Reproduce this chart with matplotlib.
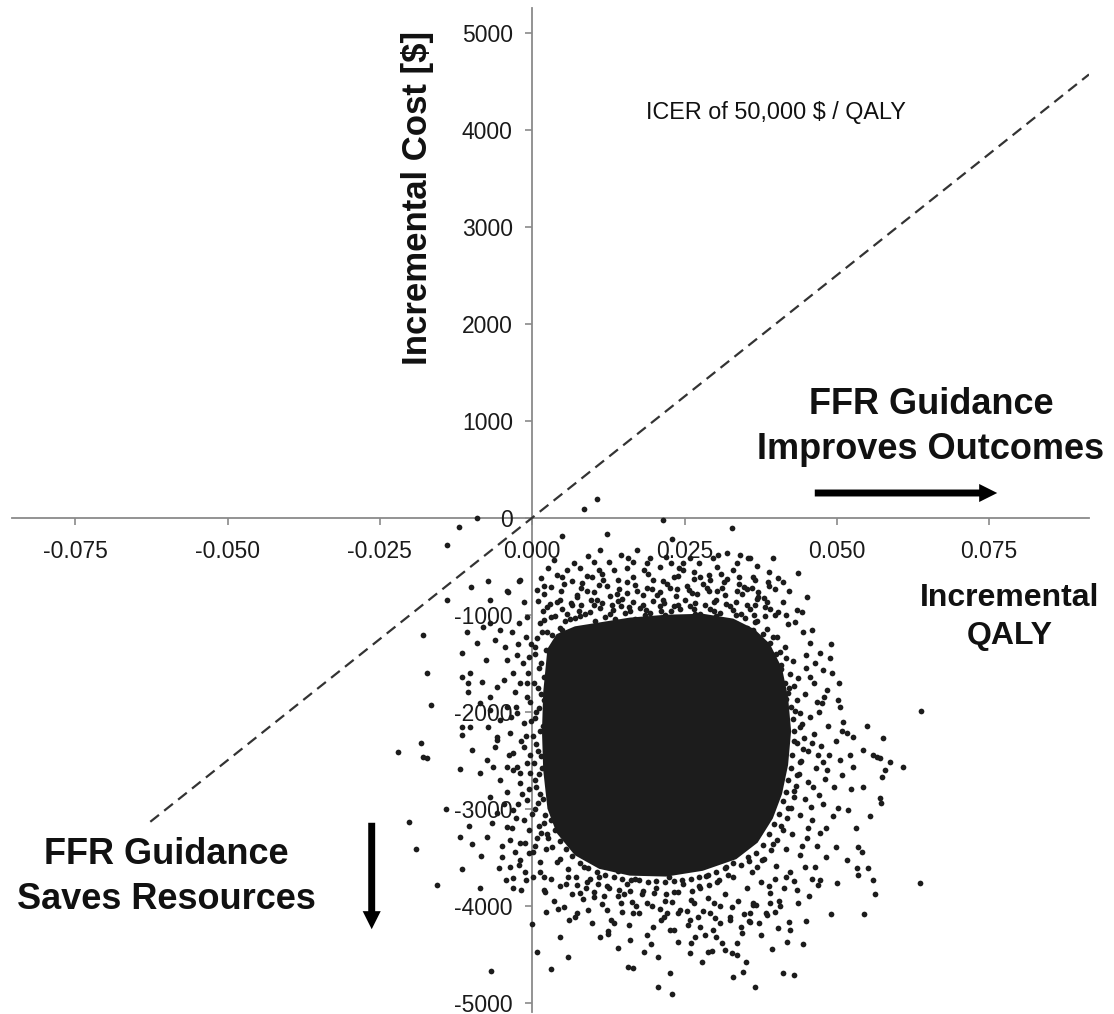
import matplotlib.pyplot as plt
from matplotlib.patches import FancyArrowPatch

plt.rcParams['font.family'] = ['Liberation Sans', 'DejaVu Sans']
plt.rcParams['axes.unicode_minus'] = False

# incremental QALY values are kept x 1000, incremental cost in $
wtp_threshold = 50000  # $ per QALY

# outline of the densest part of the simulation cloud
core_qaly = [2.5, 4, 7, 11, 16, 22, 28, 33, 36.5, 39, 41, 42, 42.5, 42, 41, 39.5, 37, 33.5,
             28, 22, 16, 11, 7, 4, 2.5, 1.8, 1.6, 1.8]
core_cost = [-1350, -1200, -1120, -1080, -1030, -1000, -990, -1040, -1150, -1300, -1550,
             -1850, -2200, -2550, -2850, -3100, -3350, -3520, -3640, -3700, -3690, -3620,
             -3480, -3250, -3000, -2600, -2200, -1800]

# simulation draws above and around the dense part
upper_draws = [
    (0.8, -746), (3.0, -711), (4.9, -608), (5.7, -539), (7.9, -522), (8.2, -677), (10.1, -454),
    (10.9, -539), (11.2, -333), (11.7, -643), (13.4, -539), (14.5, -385), (15.5, -522), (16.6, -454),
    (17.2, -333), (18.3, -539), (19.4, -419), (19.9, -643), (21.0, -505), (22.7, -471), (23.2, -608),
    (24.8, -539), (25.9, -419), (27.6, -608), (29.2, -643), (30.3, -505), (32.0, -368), (33.6, -471),
    (34.7, -711), (35.8, -419), (36.3, -608), (3.5, -436), (24.8, -467), (30.5, -385), (34.1, -385),
    (2.4, -917), (4.1, -873), (5.7, -996), (7.3, -814), (9.0, -756), (10.6, -849), (12.3, -701),
    (13.9, -790), (15.5, -667), (17.2, -756), (18.8, -721), (20.5, -800), (22.1, -687), (23.8, -736),
    (25.4, -701), (27.0, -790), (28.7, -721), (30.3, -756), (32.0, -633), (33.6, -756), (35.2, -736),
    (1.3, -1089), (3.0, -1021), (4.6, -1134), (6.2, -1045), (7.9, -1011), (9.5, -976), (11.2, -927),
    (12.8, -996), (14.5, -907), (16.1, -962), (17.7, -927), (19.4, -979), (21.0, -907), (22.7, -962),
    (24.3, -945), (25.9, -907), (27.6, -996), (29.2, -942), (30.9, -979), (32.5, -907), (34.2, -996),
    (35.8, -942), (0.8, -1237), (2.4, -1182), (4.1, -1271), (5.7, -1217), (7.3, -1165), (9.0, -1148),
    (10.6, -1114), (12.3, -1151), (13.9, -1079), (15.5, -1134), (17.2, -1065), (18.8, -1114),
    (20.5, -1099), (22.1, -1114), (23.8, -1065), (25.4, -1134), (27.0, -1079), (28.7, -1114),
    (30.3, -1065), (32.0, -1151), (33.6, -1099), (35.2, -1134), (36.9, -1065), (6.5, -900),
    (14.0, -860), (21.5, -850), (29.8, -870), (37.0, -820), (9.8, -610), (26.5, -560), (31.0, -580),
    (2.6, -520), (6.8, -470), (9.2, -390), (12.6, -460), (15.8, -420), (18.9, -470), (21.9, -400),
    (24.1, -520), (27.3, -470), (29.6, -420), (32.9, -540), (36.9, -500), (38.8, -560),
    (1.9, -700), (5.2, -680), (8.0, -720), (11.0, -690), (14.3, -730), (16.9, -690), (19.6, -740),
    (22.6, -720), (25.8, -750), (28.0, -680), (31.2, -720), (34.0, -680), (36.0, -720), (38.9, -700),
    (42.1, -760), (1.8, -960), (4.9, -940), (7.6, -960), (10.2, -900), (13.3, -950), (15.9, -920),
    (18.6, -950), (21.2, -960), (24.0, -900), (26.5, -940), (29.9, -960), (33.0, -950), (36.4, -1000),
    (39.0, -940), (41.6, -1000), (43.1, -1080),
]

right_draws = [
    (35.4, -416), (39.5, -412), (43.7, -570), (40.4, -622), (41.2, -663), (38.7, -663), (45.1, -814),
    (43.4, -951), (44.3, -969), (40.4, -969), (36.6, -900), (38.2, -918), (44.5, -1175), (45.9, -1158),
    (45.6, -1292), (47.3, -1395), (48.9, -1447), (47.8, -1570), (49.2, -1601), (45.6, -1639),
    (48.4, -1776), (50.2, -1880), (50.5, -1949), (47.5, -1914), (54.9, -2148), (51.0, -2103),
    (51.6, -2220), (52.7, -2258), (57.6, -2272), (56.6, -2464), (58.8, -2516), (60.9, -2567),
    (54.3, -2395), (50.5, -2498), (56.0, -2447), (57.1, -2478), (57.9, -2601), (57.5, -2677),
    (52.7, -2567), (54.3, -2773), (57.1, -2890), (57.2, -2945), (55.5, -3076), (51.9, -3014),
    (50.2, -2993), (53.5, -3392), (54.1, -3444), (51.7, -3529), (50.0, -3763), (53.3, -3615),
    (55.2, -3609), (56.0, -3735), (56.3, -3880), (53.5, -3684), (54.5, -4086), (49.0, -4086),
    (46.4, -3602), (47.3, -3735), (46.9, -3787), (38.5, -1150), (40.2, -1230), (41.5, -1330),
    (42.8, -1480), (40.9, -1520), (43.6, -1650), (42.2, -1760), (44.8, -1820), (43.1, -1990),
    (45.6, -2050), (44.0, -2160), (46.3, -2230), (43.5, -2320), (45.2, -2400), (47.4, -2350),
    (44.1, -2510), (46.6, -2580), (43.4, -2650), (45.3, -2720), (48.0, -2690), (42.9, -2820),
    (44.7, -2900), (47.1, -2860), (42.0, -2990), (43.9, -3060), (46.0, -3120), (40.8, -3180),
    (42.7, -3260), (45.1, -3300), (39.5, -3360), (41.6, -3420), (44.0, -3480), (37.8, -3530),
    (40.0, -3590), (42.3, -3650), (48.8, -2450), (49.5, -2780), (48.3, -3200), (47.0, -2000),
    (46.2, -1700), (44.9, -1420), (42.0, -1100), (39.8, -1000), (41.2, -870), (38.0, -830),
    (36.9, -1250), (39.6, -1430), (40.4, -1630), (41.7, -1870), (41.4, -2400), (40.9, -2650),
    (39.4, -2950), (37.2, -3250), (35.4, -3500), (63.9, -1990), (63.7, -3766),
    (45.0, -1550), (46.8, -1900), (45.9, -2320), (47.8, -2520), (45.7, -2980), (44.3, -3380),
    (47.2, -3250), (49.9, -3400), (46.0, -3720), (50.8, -2200), (49.0, -1300), (52.1, -2450),
]

lower_draws = [
    (1.2, -3650), (3.0, -3720), (2.1, -3860), (4.5, -3800), (3.6, -3950), (5.8, -3700), (6.5, -3880),
    (5.2, -4010), (7.4, -3790), (8.3, -3930), (7.0, -4120), (9.5, -3720), (10.1, -3860), (9.2, -4040),
    (11.4, -3980), (12.2, -3800), (13.0, -4150), (12.5, -4260), (14.1, -3900), (14.8, -4060),
    (15.6, -3780), (16.3, -3960), (15.9, -4200), (17.5, -4080), (18.2, -3850), (18.8, -4300),
    (19.6, -4000), (20.4, -3820), (21.1, -4150), (21.8, -3950), (22.6, -4250), (23.3, -3860),
    (24.0, -4080), (24.7, -3780), (25.5, -4200), (26.1, -3940), (26.8, -4320), (27.4, -3800),
    (28.1, -4050), (28.8, -3920), (29.6, -4250), (30.3, -3760), (30.9, -4000), (31.6, -3880),
    (32.4, -4150), (33.0, -3700), (33.8, -3950), (34.5, -4280), (35.2, -3820), (36.0, -3650),
    (36.8, -3990), (37.5, -3760), (38.3, -4080), (39.0, -3870), (39.8, -3720), (40.5, -3950),
    (41.3, -3820), (11.0, -3700), (16.9, -3720), (22.5, -3700), (28.6, -3690), (19.3, -3600),
    (25.0, -3620), (14.0, -3640), (8.5, -3600), (31.8, -3600), (4.0, -3550), (2.3, -3420),
    (1.5, -3250), (7.9, -3873), (10.1, -3907), (12.3, -4045), (13.4, -4182), (14.5, -3976),
    (16.6, -4079), (18.8, -3976), (19.9, -4217), (21.6, -4114), (23.2, -4251), (24.3, -4045),
    (25.9, -4148), (27.6, -4217), (29.2, -4079), (30.9, -4182), (32.5, -4114), (34.2, -4217),
    (35.8, -4079), (29.8, -3976), (26.5, -3976), (44.4, -4395), (44.9, -4155), (43.4, -3839),
    (43.7, -3976), (42.1, -4165), (42.3, -4251), (41.8, -4378), (41.1, -4697), (43.0, -4715),
    (40.4, -4234), (39.9, -4062), (38.5, -4096), (39.1, -3973), (36.3, -3976), (35.6, -4158),
    (35.1, -4578), (34.6, -4681), (33.0, -4733), (36.5, -4842), (32.8, -4491), (33.6, -4508),
    (31.1, -4388), (31.7, -4457), (27.8, -4578), (28.9, -4475), (29.5, -4464), (22.6, -4697),
    (20.7, -4835), (22.9, -4911), (20.6, -4526), (0.0, -4189), (0.8, -4474), (3.0, -4653),
    (4.6, -4320), (2.3, -4062), (4.3, -4034), (5.8, -4526), (7.4, -4072), (1.9, -3839), (2.0, -3701),
    (15.8, -4629), (16.5, -4646), (14.0, -4433), (12.5, -4295), (18.3, -4481), (24.0, -4371),
    (25.9, -4485), (36.2, -3993), (35.7, -4165),
    (6.0, -4150), (9.8, -4180), (11.2, -4320), (16.1, -4350), (19.5, -4400), (22.2, -4080),
    (26.0, -4380), (28.4, -4300), (30.2, -4320), (33.6, -4380), (37.6, -4300), (39.4, -4450),
]

left_draws = [
    (-9.1, -6), (-12.0, -93), (8.5, 90), (10.7, 193), (21.5, -24), (-14.0, -281), (4.9, -189),
    (12.3, -168), (32.8, -106), (23.0, -220), (-17.9, -1209), (-17.3, -1598), (-16.6, -1931),
    (-22.0, -2412), (-18.3, -2323), (-17.9, -2467), (-17.3, -2477), (-11.8, -2591), (-14.0, -849),
    (-10.0, -711), (-7.2, -650), (-2.1, -650), (-4.2, -756), (-6.9, -849), (-11.6, -1392),
    (-10.7, -1175), (-11.5, -1639), (-10.2, -1601), (-10.5, -1706), (-10.5, -1799), (-8.3, -1691),
    (-7.6, -1467), (-9.1, -1292), (-11.5, -2155), (-11.5, -2240), (-9.9, -2395), (-10.2, -2155),
    (-7.2, -2155), (-5.8, -2258), (-6.1, -2361), (-7.4, -2498), (-20.3, -3140), (-19.1, -3416),
    (-15.6, -3787), (-14.2, -3003), (-11.8, -3292), (-10.3, -3175), (-11.5, -3622), (-9.9, -3364),
    (-8.4, -3488), (-7.5, -3292), (-6.6, -3148), (-6.7, -4670), (-8.5, -3818), (-5.5, -3612),
    (-5.0, -3495), (-5.0, -3385), (-3.6, -3323), (-3.3, -3199), (-2.1, -3581), (-3.1, -3715),
    (-3.1, -3818), (-4.3, -3735), (-1.0, -3735), (-1.8, -3839), (-3.9, -763), (-2.0, -642),
    (-1.4, -866), (-0.9, -1021), (-2.2, -1089), (-3.3, -1175), (-4.4, -1330), (-5.3, -1158),
    (-6.9, -1089), (-8.0, -1124), (-6.1, -1261), (-4.2, -1467), (-2.5, -1416), (-1.1, -1227),
    (-0.6, -1433), (-3.1, -1604), (-2.0, -1707), (-0.9, -1846), (-4.7, -1673), (-5.8, -1742),
    (-6.9, -1846), (-8.5, -1914), (-4.2, -1949), (-2.5, -2017), (-1.4, -2120), (-3.6, -2223),
    (-5.3, -2086), (-6.9, -1983), (-5.8, -2292), (-3.1, -2429), (-1.4, -2361), (-4.2, -2567),
    (-2.0, -2635), (-0.9, -2532), (-5.3, -2704), (-4.2, -2825), (-2.0, -2738), (-0.9, -2911),
    (-3.1, -3014), (-1.4, -3117), (-0.6, -3220), (-2.0, -3357), (-4.2, -3186), (-5.8, -3048),
    (-6.9, -2877), (-8.5, -2635), (-6.4, -2567), (-2.5, -2567), (-0.3, -2635), (-0.6, -3460),
    (-2.0, -3529), (-3.6, -3598), (0.4, -1400), (1.1, -1550), (0.3, -1700), (1.4, -1820),
    (0.6, -2000), (1.8, -2150), (0.2, -2250), (0.9, -2400), (1.6, -2580), (0.4, -2700), (1.2, -2850),
    (0.5, -3000), (1.9, -3150), (0.8, -3300), (0.2, -3450), (1.3, -3550), (-0.3, -1900),
    (-0.5, -2800), (0.1, -3700),
    (-2.3, -1300), (-3.5, -2050), (-1.0, -2250), (-2.4, -2950), (-1.2, -3650), (-4.6, -2950),
    (-2.9, -3450),
]

# tightly packed draws along the edge of the dense part
edge_draws = [
    (2.0, -1050), (3.7, -1010), (5.3, -1070), (7.0, -1030), (8.6, -990), (10.3, -1060), (11.9, -1020),
    (13.6, -1045), (15.2, -985), (16.9, -1040), (18.5, -1005), (20.2, -1060), (21.8, -1000),
    (23.5, -1030), (25.1, -1075), (26.8, -995), (28.4, -1040), (30.1, -1015), (31.7, -1060),
    (33.4, -1000), (35.0, -1035), (36.6, -1080), (38.2, -1010),
    (1.6, -1180), (3.3, -1210), (4.9, -1160), (6.6, -1195), (8.2, -1230), (9.9, -1170), (11.5, -1200),
    (13.2, -1225), (14.8, -1185), (16.5, -1215), (18.1, -1165), (19.8, -1190), (21.4, -1240),
    (23.1, -1175), (24.7, -1205), (26.4, -1230), (28.0, -1170), (29.7, -1195), (31.3, -1220),
    (33.0, -1180), (34.6, -1210), (36.2, -1160), (37.9, -1195), (39.5, -1225),
    (1.0, -860), (2.9, -890), (4.6, -845), (6.3, -880), (8.0, -900), (9.7, -850), (11.4, -875),
    (13.1, -905), (14.8, -840), (16.5, -870), (18.2, -895), (19.9, -855), (21.6, -880), (23.3, -910),
    (25.0, -845), (26.7, -875), (28.4, -900), (30.1, -850), (31.8, -885), (33.5, -865), (35.2, -895),
    (36.9, -840), (38.6, -870),
    (0.5, -1330), (2.2, -1360), (3.9, -1310), (37.5, -1320), (39.0, -1290), (40.6, -1380),
    (40.0, -1400), (41.6, -1450), (40.8, -1560), (42.3, -1610), (41.5, -1700), (43.0, -1740),
    (42.0, -1810), (43.4, -1880), (42.4, -1950), (43.9, -2010), (42.8, -2080), (44.3, -2130),
    (42.9, -2200), (44.6, -2270), (43.0, -2300), (44.4, -2380), (42.7, -2450), (44.0, -2520),
    (42.4, -2580), (43.8, -2640), (42.0, -2700), (43.3, -2770), (41.6, -2830), (43.0, -2880),
    (41.1, -2920), (42.4, -2990), (40.5, -3050), (41.8, -3100), (39.7, -3160), (41.1, -3220),
    (38.8, -3260), (40.2, -3320), (37.9, -3370), (39.2, -3430), (36.8, -3460), (38.1, -3520),
    (35.6, -3540), (36.9, -3600), (34.3, -3580),
    (33.0, -3560), (31.6, -3610), (30.2, -3650), (28.8, -3680), (27.4, -3700), (26.0, -3720),
    (24.6, -3740), (23.2, -3745), (21.8, -3760), (20.4, -3750), (19.0, -3760), (17.6, -3740),
    (16.2, -3735), (14.8, -3720), (13.4, -3700), (12.0, -3680), (10.6, -3650), (9.2, -3610),
    (7.8, -3560), (6.6, -3490), (5.5, -3420), (4.6, -3330), (3.8, -3220), (3.0, -3120),
    (32.2, -3680), (30.6, -3730), (29.0, -3790), (27.6, -3820), (26.2, -3850), (24.0, -3860),
    (22.0, -3880), (20.0, -3870), (18.0, -3880), (16.0, -3850), (14.2, -3840), (12.6, -3820),
    (10.8, -3780), (9.0, -3760), (7.2, -3700), (5.8, -3620), (4.6, -3520), (3.2, -3400), (2.4, -3260),
    (1.5, -1500), (2.8, -1560), (1.9, -1640), (0.9, -1760), (2.0, -1880), (1.1, -1960), (0.5, -2060),
    (1.3, -2200), (0.6, -2330), (1.4, -2460), (0.3, -2530), (1.1, -2640), (0.7, -2780), (1.8, -2900),
    (0.9, -2940), (2.1, -3060), (1.1, -3180), (2.6, -3300), (0.4, -3380), (-0.2, -2100),
    (-0.4, -2450), (-0.1, -3050), (-0.7, -1600), (-0.2, -1300), (3.6, -1380), (4.4, -1290),
    (6.2, -1330),
]

# draws between the edge and the sparse outer ring
mid_draws = [
    (1.5, -620), (4.0, -590), (6.5, -650), (9.0, -600), (11.5, -580), (14.0, -640), (16.5, -610),
    (19.0, -585), (21.5, -655), (24.0, -600), (26.5, -630), (29.0, -590), (31.5, -660), (34.0, -610),
    (36.5, -640), (2.0, -790), (4.7, -760), (7.4, -800), (10.1, -770), (12.8, -810), (15.5, -775),
    (18.2, -800), (20.9, -765), (23.6, -805), (26.3, -780), (29.0, -760), (31.7, -800), (34.4, -790),
    (37.1, -770), (39.8, -740),
    (46.5, -1500), (47.9, -1850), (48.6, -2150), (49.8, -2300), (46.9, -2450), (48.4, -2600),
    (50.8, -2650), (46.1, -2780), (47.7, -2950), (49.3, -3080), (45.2, -3200), (46.8, -3380),
    (44.8, -3600), (43.0, -3750), (45.5, -3900), (41.6, -3700), (48.2, -3500), (52.3, -2800),
    (53.1, -3200), (50.4, -1700),
    (5.5, -3780), (8.8, -3820), (11.8, -3900), (15.1, -3880), (17.0, -4000), (20.9, -4030),
    (23.0, -3960), (25.4, -4050), (27.2, -4120), (30.0, -4130), (32.8, -4010), (34.8, -4090),
    (37.2, -4180), (38.8, -3800), (40.6, -4000),
    (-1.5, -1500), (-2.8, -1800), (-1.8, -2300), (-3.2, -2600), (-1.6, -2850), (-2.7, -3100),
    (-1.2, -3350), (-2.6, -1950), (-3.8, -2450), (-0.9, -1700),
]

x_ticks = [-0.075, -0.050, -0.025, 0.000, 0.025, 0.050, 0.075]
y_ticks = [-5000, -4000, -3000, -2000, -1000, 0, 1000, 2000, 3000, 4000, 5000]
x_range = (-0.0854, 0.0914)
y_range = (-5096, 5255)

dot_color = '#1c1c1c'
axis_color = '#8a8a8a'

fig = plt.figure(figsize=(11.14, 10.14), dpi=100)
ax = fig.add_axes([12 / 1114, 2 / 1014, 1077 / 1114, 1004 / 1014])

ax.fill([q / 1000 for q in core_qaly], core_cost, color=dot_color, lw=0, zorder=3)
for group in (upper_draws, right_draws, lower_draws, left_draws, edge_draws, mid_draws):
    ax.scatter([q / 1000 for q, c in group], [c for q, c in group],
               s=17, color=dot_color, lw=0, zorder=3)

# willingness-to-pay line through the origin
line_x = [-0.0627, x_range[1]]
ax.plot(line_x, [x * wtp_threshold for x in line_x], color='#333333', lw=1.6,
        linestyle=(0, (5, 3)), zorder=2)

ax.set_xlim(*x_range)
ax.set_ylim(*y_range)
for side in ('top', 'right'):
    ax.spines[side].set_visible(False)
for side in ('left', 'bottom'):
    ax.spines[side].set_position(('data', 0))
    ax.spines[side].set_color(axis_color)
    ax.spines[side].set_linewidth(1.3)
    ax.spines[side].set_zorder(1)

ax.set_xticks(x_ticks)
ax.set_xticklabels(['%.3f' % t for t in x_ticks])
ax.set_yticks(y_ticks)
ax.set_yticklabels(['%d' % t for t in y_ticks])
ax.tick_params(axis='x', direction='out', length=5, width=1.2, color=axis_color,
               labelsize=16.5, labelcolor='#1a1a1a', pad=11)
ax.tick_params(axis='y', direction='out', length=5, width=1.2, color=axis_color,
               labelsize=16.5, labelcolor='#1a1a1a', pad=9)
ax.patch.set_alpha(0)

text_color = '#111111'
fig.text(417 / 1114, 1 - 198 / 1014, 'Incremental Cost [$]', rotation=90, ha='center',
         va='center', fontsize=25, fontweight='bold', color=text_color)
fig.text(776 / 1114, 1 - 112 / 1014, 'ICER of 50,000 $ / QALY', ha='center', va='center',
         fontsize=16.8, color=text_color)
fig.text(931 / 1114, 1 - 427 / 1014, 'FFR Guidance\nImproves Outcomes', ha='center',
         va='center', fontsize=26, fontweight='bold', color=text_color, linespacing=1.35)
fig.text(1010 / 1114, 1 - 617 / 1014, 'Incremental\nQALY', ha='center', va='center',
         fontsize=23, fontweight='bold', color=text_color, linespacing=1.38)
fig.text(166 / 1114, 1 - 877 / 1014, 'FFR Guidance\nSaves Resources', ha='center',
         va='center', fontsize=26, fontweight='bold', color=text_color, linespacing=1.35)

arrow_style = 'simple,head_length=0.65,head_width=0.65,tail_width=0.25'
fig.add_artist(FancyArrowPatch((812 / 1114, 1 - 493 / 1014), (1000 / 1114, 1 - 493 / 1014),
                               transform=fig.transFigure, arrowstyle=arrow_style,
                               mutation_scale=20, color='black', lw=0))
fig.add_artist(FancyArrowPatch((371.7 / 1114, 1 - 820 / 1014), (371.7 / 1114, 1 - 932 / 1014),
                               transform=fig.transFigure, arrowstyle=arrow_style,
                               mutation_scale=20, color='black', lw=0))

fig.savefig('out.png', dpi=100)
